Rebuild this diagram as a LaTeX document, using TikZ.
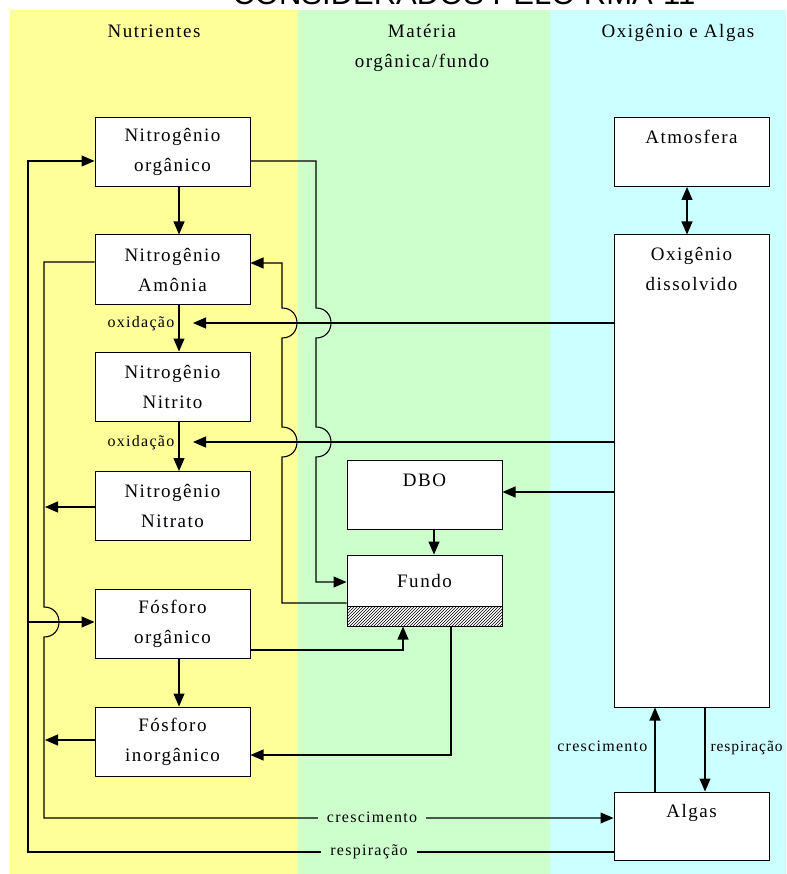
\documentclass[tikz,border=0pt]{standalone}
\usepackage{fontspec}
\setmainfont{Liberation Serif}
\newfontfamily\boxfont{Liberation Serif}[LetterSpace=8]
\newfontfamily\lblfont{Liberation Serif}[LetterSpace=6]
\newfontfamily\titlefont{Liberation Sans}
\usetikzlibrary{arrows.meta,patterns}
\definecolor{nutyellow}{RGB}{255,255,153}
\definecolor{matgreen}{RGB}{204,255,204}
\definecolor{oxcyan}{RGB}{204,255,255}
\begin{document}
\begin{tikzpicture}[x=1pt,y=-1pt,line width=1.1pt,
  box/.style={draw,fill=white,line width=1pt,minimum width=155pt,minimum height=69pt,inner sep=0pt,align=center,font=\boxfont\fontsize{19}{30}\selectfont},
  boxtxt/.style={inner sep=0pt,align=center,font=\boxfont\fontsize{19}{30}\selectfont},
  hdr/.style={font=\boxfont\fontsize{19}{30}\selectfont,inner sep=0pt,anchor=base},
  lbl/.style={font=\boxfont\fontsize{16}{18}\selectfont,inner sep=0pt,anchor=base},
  gaplbl/.style={lbl,fill=matgreen,inner xsep=9pt,inner ysep=3pt},
  arr/.style={-{Triangle[length=13pt,width=11pt]}},
  darr/.style={{Triangle[length=13pt,width=11pt]}-{Triangle[length=13pt,width=11pt]}}]
\useasboundingbox (0,0) rectangle (786,874);
\clip (0,0) rectangle (786,874);
% background
\fill[white] (0,0) rectangle (786,874);
\fill[nutyellow] (10,10) rectangle (298,874);
\fill[matgreen] (298,10) rectangle (550,874);
\fill[oxcyan] (550,10) rectangle (786,874);
% title and headers
\node[font=\titlefont\fontsize{31}{31}\selectfont,anchor=base,inner sep=0pt] (title) at (464,5) {CONSIDERADOS PELO RMA-11};
\node[hdr] (hn) at (154,38) {Nutrientes};
\node[hdr] (hm1) at (422,38) {Matéria};
\node[hdr] (hm2) at (422,68) {orgânica/fundo};
\node[hdr] (ho) at (678,38) {Oxigênio e Algas};
% boxes
\node[box] (norg) at (172.5,152) {Nitrogênio\\orgânico};
\node[box] (namo) at (172.5,269.5) {Nitrogênio\\Amônia};
\node[box] (nnit) at (172.5,386.5) {Nitrogênio\\Nitrito};
\node[box] (nnat) at (172.5,506) {Nitrogênio\\Nitrato};
\node[box] (forg) at (172.5,623.5) {Fósforo\\orgânico};
\node[box] (fino) at (172.5,741.5) {Fósforo\\inorgânico};
\node[box] (atm) at (691.5,152) {Atmosfera\\\mbox{}};
\node[box,minimum height=472pt] (oxd) at (691.5,471) {};
\node[boxtxt,anchor=north] (oxdt) at (691.5,247) {Oxigênio\\dissolvido};
\node[box] (dbo) at (424.5,495) {DBO\\\mbox{}};
\node[box,minimum height=51pt] (fundo) at (424.5,580.5) {Fundo};
\node[draw,fill=white,line width=1pt,minimum width=155pt,minimum height=20pt,inner sep=0pt,postaction={pattern=north east lines}] (sed) at (424.5,616) {};
\node[box,minimum height=68pt] (algas) at (691.5,826) {Algas\\\mbox{}};
% nitrogen chain
\draw[arr] (norg.south -| 179,0) -- (namo.north -| 179,0);
\draw[arr] (namo.south -| 179,0) -- (nnit.north -| 179,0);
\draw[arr] (nnit.south -| 179,0) -- (nnat.north -| 179,0);
\draw[arr] (forg.south -| 179,0) -- (fino.north -| 179,0);
% atmosphere
\draw[darr] (atm.south -| 687,0) -- (oxd.north -| 687,0);
% DBO
\draw[arr] (oxd.west |- 0,492) -- (dbo.east |- 0,492);
\draw[arr] (dbo.south -| 434,0) -- (fundo.north -| 434,0);
% oxidation
\coordinate (ox1) at (193,323);
\coordinate (ox2) at (193,442);
\draw[arr] (oxd.west |- ox1) -- (ox1);
\draw[arr] (oxd.west |- ox2) -- (ox2);
\node[lbl] (oxl1) at (141,327) {oxidação};
\node[lbl] (oxl2) at (141,446) {oxidação};
% organic N to Fundo
\draw[arr] (norg.east |- 0,161) -- (316,161) -- (316,308) .. controls (336,308) and (336,338) .. (316,338) -- (316,427) .. controls (336,427) and (336,457) .. (316,457) -- (316,582) -- (fundo.west |- 0,582);
% Fundo to Amonia
\draw[arr] (fundo.west |- 0,603) -- (282,603) -- (282,457) .. controls (302,457) and (302,427) .. (282,427) -- (282,338) .. controls (302,338) and (302,308) .. (282,308) -- (282,263) -- (namo.east |- 0,263);
% crescimento (nutrients to algae)
\draw[arr] (namo.west |- 0,262) -- (44,262) -- (44,607) .. controls (64,607) and (64,637) .. (44,637) -- (44,818) -- (algas.west |- 0,818);
\coordinate (nj) at (45,507);
\coordinate (pj) at (45,740);
\draw[arr] (nnat.west |- nj) -- (nj);
\draw[arr] (fino.west |- pj) -- (pj);
% respiracao (algae to nutrients)
\draw[arr] (algas.west |- 0,852) -- (28,852) -- (28,161) -- (norg.west |- 0,161);
\coordinate (fj) at (28,622);
\draw[arr] (fj) -- (forg.west |- fj);
% phosphorus with sediment
\draw[arr] (forg.east |- 0,650) -- (403,650) -- (sed.south -| 403,0);
\draw[arr] (sed.south -| 451,0) -- (451,755) -- (fino.east |- 0,755);
% algae and oxygen
\draw[arr] (algas.north -| 655,0) -- (oxd.south -| 655,0);
\draw[arr] (oxd.south -| 705,0) -- (algas.north -| 705,0);
\node[lbl,anchor=base east] (cr2) at (648,751) {crescimento};
\node[lbl,anchor=base west,font=\lblfont\fontsize{15.5}{18}\selectfont] (rs2) at (710,751) {respiração};
% labels on bottom lines
\node[gaplbl] (cr1) at (372,822) {crescimento};
\node[gaplbl] (rs1) at (369,855) {respiração};
\end{tikzpicture}
\end{document}
